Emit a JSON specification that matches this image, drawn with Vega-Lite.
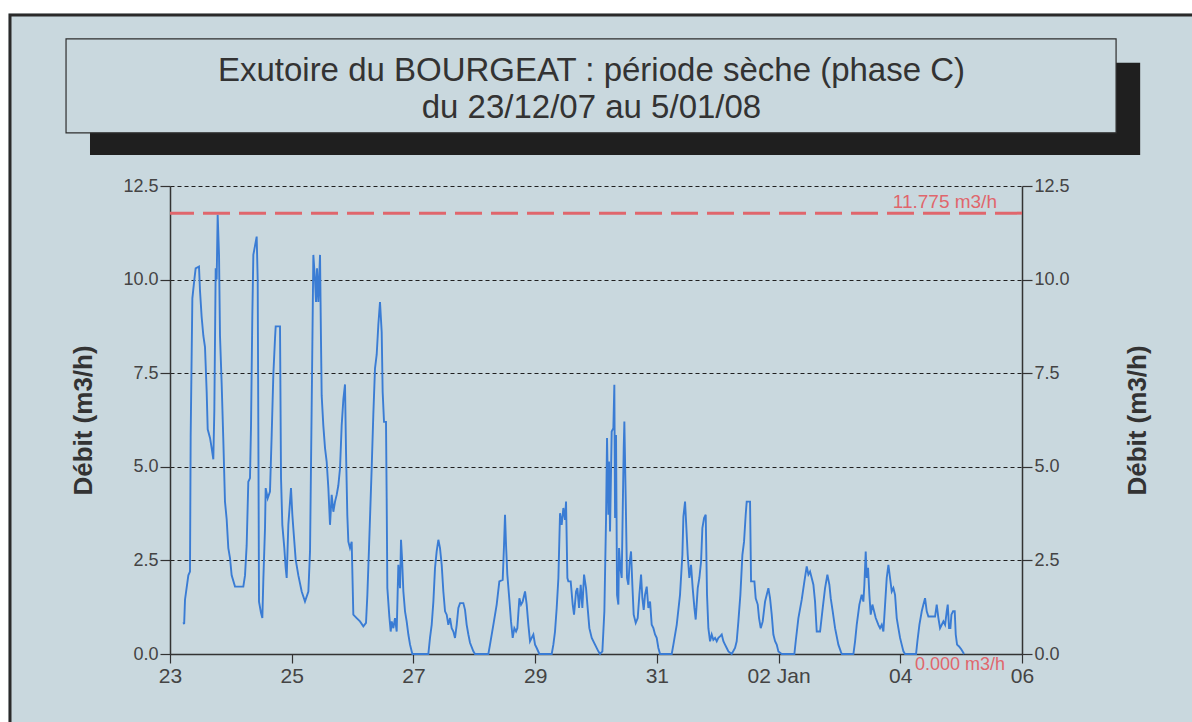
{
  "$schema": "https://vega.github.io/schema/vega-lite/v6.json",
  "width": 852,
  "height": 468,
  "autosize": {"type": "none"},
  "padding": {"left": 170, "top": 186, "right": 170, "bottom": 68},
  "background": "#c9d8de",
  "config": {"view": {"stroke": null}, "font": "Liberation Sans", "axis": {"labelFont": "Liberation Sans", "titleFont": "Liberation Sans"}},
  "resolve": {"axis": {"x": "independent", "y": "independent"}},
  "layer": [
    {
      "data": {"values": [{}]},
      "mark": {"type": "rect", "fill": "#ffffff", "stroke": null},
      "encoding": {
        "x": {"datum": {"year": 2007, "month": 12, "date": 19}, "type": "temporal", "axis": null, "scale": {"domain": [{"year": 2007, "month": 12, "date": 23}, {"year": 2008, "month": 1, "date": 6}]}},
        "x2": {"datum": {"year": 2008, "month": 1, "date": 9}},
        "y": {"datum": 18.2, "type": "quantitative", "axis": null, "scale": {"domain": [0, 12.5], "nice": false}},
        "y2": {"datum": 17.107}
      }
    },
    {
      "data": {"values": [{}]},
      "mark": {"type": "rect", "fill": "#ffffff", "stroke": null},
      "encoding": {
        "x": {"datum": {"year": 2007, "month": 12, "date": 19}, "type": "temporal", "axis": null, "scale": {"domain": [{"year": 2007, "month": 12, "date": 23}, {"year": 2008, "month": 1, "date": 6}]}},
        "x2": {"datum": {"year": 2007, "month": 12, "date": 20, "hours": 8, "minutes": 19}},
        "y": {"datum": 18.2, "type": "quantitative", "axis": null, "scale": {"domain": [0, 12.5], "nice": false}},
        "y2": {"datum": -3}
      }
    },
    {
      "data": {"values": [{}]},
      "mark": {"type": "rect", "fillOpacity": 0, "stroke": "#2a2a2a", "strokeWidth": 3},
      "encoding": {
        "x": {"datum": {"year": 2007, "month": 12, "date": 20, "hours": 8, "minutes": 54}, "type": "temporal", "axis": null, "scale": {"domain": [{"year": 2007, "month": 12, "date": 23}, {"year": 2008, "month": 1, "date": 6}]}},
        "x2": {"datum": {"year": 2008, "month": 1, "date": 8, "hours": 20, "minutes": 12}},
        "y": {"datum": 17.067, "type": "quantitative", "axis": null, "scale": {"domain": [0, 12.5], "nice": false}},
        "y2": {"datum": -2.03}
      }
    },
    {
      "data": {"values": [{}]},
      "mark": {"type": "rect", "fill": "#1f1f1f", "stroke": null},
      "encoding": {
        "x": {"datum": {"year": 2007, "month": 12, "date": 21, "hours": 16, "minutes": 27}, "type": "temporal", "axis": null, "scale": {"domain": [{"year": 2007, "month": 12, "date": 23}, {"year": 2008, "month": 1, "date": 6}]}},
        "x2": {"datum": {"year": 2008, "month": 1, "date": 7, "hours": 22, "minutes": 36}},
        "y": {"datum": 15.79, "type": "quantitative", "axis": null, "scale": {"domain": [0, 12.5], "nice": false}},
        "y2": {"datum": 13.33}
      }
    },
    {
      "data": {"values": [{}]},
      "mark": {"type": "rect", "fill": "#c9d8de", "stroke": "#2e2e2e", "strokeWidth": 1.2},
      "encoding": {
        "x": {"datum": {"year": 2007, "month": 12, "date": 21, "hours": 7, "minutes": 0}, "type": "temporal", "axis": null, "scale": {"domain": [{"year": 2007, "month": 12, "date": 23}, {"year": 2008, "month": 1, "date": 6}]}},
        "x2": {"datum": {"year": 2008, "month": 1, "date": 7, "hours": 13, "minutes": 6}},
        "y": {"datum": 16.43, "type": "quantitative", "axis": null, "scale": {"domain": [0, 12.5], "nice": false}},
        "y2": {"datum": 13.92}
      }
    },
    {
      "data": {"values": [{}]},
      "mark": {"type": "text", "text": ["Exutoire du BOURGEAT : période sèche (phase C)", "du 23/12/07 au 5/01/08"], "font": "Liberation Sans", "fontSize": 33, "color": "#333333", "align": "center", "baseline": "alphabetic", "lineHeight": 37},
      "encoding": {
        "x": {"datum": {"year": 2007, "month": 12, "date": 29, "hours": 22, "minutes": 13}, "type": "temporal", "axis": null, "scale": {"domain": [{"year": 2007, "month": 12, "date": 23}, {"year": 2008, "month": 1, "date": 6}]}},
        "y": {"datum": 15.3, "type": "quantitative", "axis": null, "scale": {"domain": [0, 12.5], "nice": false}}
      }
    },
    {
      "data": {"values": [
        {"date": "2007-12-23T05:16", "debit": 0.85},
        {"date": "2007-12-23T05:35", "debit": 0.8},
        {"date": "2007-12-23T05:55", "debit": 1.45},
        {"date": "2007-12-23T07:14", "debit": 2.1},
        {"date": "2007-12-23T07:53", "debit": 2.2},
        {"date": "2007-12-23T08:09", "debit": 5.8},
        {"date": "2007-12-23T08:49", "debit": 9.5},
        {"date": "2007-12-23T09:36", "debit": 10.0},
        {"date": "2007-12-23T10:07", "debit": 10.3},
        {"date": "2007-12-23T11:26", "debit": 10.35},
        {"date": "2007-12-23T11:50", "debit": 9.7},
        {"date": "2007-12-23T12:29", "debit": 9.0},
        {"date": "2007-12-23T13:09", "debit": 8.5},
        {"date": "2007-12-23T13:48", "debit": 8.2},
        {"date": "2007-12-23T14:28", "debit": 7.0},
        {"date": "2007-12-23T14:52", "debit": 6.0},
        {"date": "2007-12-23T15:47", "debit": 5.77},
        {"date": "2007-12-23T16:26", "debit": 5.5},
        {"date": "2007-12-23T17:05", "debit": 5.2},
        {"date": "2007-12-23T17:29", "debit": 6.5},
        {"date": "2007-12-23T18:01", "debit": 10.3},
        {"date": "2007-12-23T18:24", "debit": 10.0},
        {"date": "2007-12-23T18:48", "debit": 11.73},
        {"date": "2007-12-23T19:20", "debit": 10.66},
        {"date": "2007-12-23T19:43", "debit": 8.5},
        {"date": "2007-12-23T20:23", "debit": 7.2},
        {"date": "2007-12-23T21:02", "debit": 5.7},
        {"date": "2007-12-23T21:41", "debit": 4.07},
        {"date": "2007-12-23T22:21", "debit": 3.6},
        {"date": "2007-12-23T23:00", "debit": 2.83},
        {"date": "2007-12-23T23:40", "debit": 2.56},
        {"date": "2007-12-24T00:19", "debit": 2.1},
        {"date": "2007-12-24T01:38", "debit": 1.8},
        {"date": "2007-12-24T04:55", "debit": 1.8},
        {"date": "2007-12-24T05:35", "debit": 2.1},
        {"date": "2007-12-24T06:14", "debit": 2.9},
        {"date": "2007-12-24T06:53", "debit": 4.6},
        {"date": "2007-12-24T07:33", "debit": 4.7},
        {"date": "2007-12-24T07:57", "debit": 6.1},
        {"date": "2007-12-24T08:28", "debit": 9.05},
        {"date": "2007-12-24T08:52", "debit": 10.66},
        {"date": "2007-12-24T09:31", "debit": 10.9},
        {"date": "2007-12-24T10:11", "debit": 11.15},
        {"date": "2007-12-24T10:35", "debit": 10.0},
        {"date": "2007-12-24T10:50", "debit": 6.1},
        {"date": "2007-12-24T11:06", "debit": 1.4},
        {"date": "2007-12-24T11:53", "debit": 1.1},
        {"date": "2007-12-24T12:25", "debit": 0.96},
        {"date": "2007-12-24T12:49", "debit": 2.0},
        {"date": "2007-12-24T13:28", "debit": 3.36},
        {"date": "2007-12-24T13:44", "debit": 4.43},
        {"date": "2007-12-24T14:31", "debit": 4.16},
        {"date": "2007-12-24T15:26", "debit": 4.34},
        {"date": "2007-12-24T16:06", "debit": 5.85},
        {"date": "2007-12-24T16:45", "debit": 7.45},
        {"date": "2007-12-24T17:25", "debit": 8.43},
        {"date": "2007-12-24T17:41", "debit": 8.75},
        {"date": "2007-12-24T19:23", "debit": 8.75},
        {"date": "2007-12-24T19:47", "debit": 4.7},
        {"date": "2007-12-24T20:18", "debit": 3.45},
        {"date": "2007-12-24T21:05", "debit": 2.83},
        {"date": "2007-12-24T21:37", "debit": 2.3},
        {"date": "2007-12-24T22:01", "debit": 2.03},
        {"date": "2007-12-24T22:40", "debit": 3.45},
        {"date": "2007-12-24T23:20", "debit": 4.07},
        {"date": "2007-12-24T23:43", "debit": 4.43},
        {"date": "2007-12-25T00:15", "debit": 3.72},
        {"date": "2007-12-25T00:38", "debit": 3.36},
        {"date": "2007-12-25T01:34", "debit": 2.52},
        {"date": "2007-12-25T02:37", "debit": 2.1},
        {"date": "2007-12-25T03:56", "debit": 1.67},
        {"date": "2007-12-25T05:14", "debit": 1.4},
        {"date": "2007-12-25T06:34", "debit": 1.67},
        {"date": "2007-12-25T07:13", "debit": 2.74},
        {"date": "2007-12-25T07:52", "debit": 6.57},
        {"date": "2007-12-25T08:32", "debit": 10.66},
        {"date": "2007-12-25T09:11", "debit": 10.0},
        {"date": "2007-12-25T09:35", "debit": 9.4},
        {"date": "2007-12-25T09:59", "debit": 10.3},
        {"date": "2007-12-25T10:30", "debit": 9.4},
        {"date": "2007-12-25T11:10", "debit": 10.66},
        {"date": "2007-12-25T11:33", "debit": 8.35},
        {"date": "2007-12-25T11:49", "debit": 6.9},
        {"date": "2007-12-25T12:28", "debit": 6.1},
        {"date": "2007-12-25T13:08", "debit": 5.5},
        {"date": "2007-12-25T13:47", "debit": 5.14},
        {"date": "2007-12-25T14:27", "debit": 4.43},
        {"date": "2007-12-25T15:06", "debit": 3.45},
        {"date": "2007-12-25T15:46", "debit": 4.25},
        {"date": "2007-12-25T16:25", "debit": 3.8},
        {"date": "2007-12-25T17:05", "debit": 4.07},
        {"date": "2007-12-25T17:44", "debit": 4.25},
        {"date": "2007-12-25T18:23", "debit": 4.5},
        {"date": "2007-12-25T19:03", "debit": 4.96},
        {"date": "2007-12-25T19:42", "debit": 6.1},
        {"date": "2007-12-25T20:22", "debit": 6.8},
        {"date": "2007-12-25T21:01", "debit": 7.2},
        {"date": "2007-12-25T21:25", "debit": 5.4},
        {"date": "2007-12-25T21:56", "debit": 3.7},
        {"date": "2007-12-25T22:20", "debit": 3.0},
        {"date": "2007-12-25T22:59", "debit": 2.83},
        {"date": "2007-12-25T23:39", "debit": 3.0},
        {"date": "2007-12-26T00:18", "debit": 1.05},
        {"date": "2007-12-26T01:37", "debit": 0.96},
        {"date": "2007-12-26T02:56", "debit": 0.87},
        {"date": "2007-12-26T04:15", "debit": 0.74},
        {"date": "2007-12-26T05:18", "debit": 0.83},
        {"date": "2007-12-26T05:50", "debit": 1.58},
        {"date": "2007-12-26T06:29", "debit": 2.83},
        {"date": "2007-12-26T07:32", "debit": 4.96},
        {"date": "2007-12-26T08:11", "debit": 6.39},
        {"date": "2007-12-26T08:51", "debit": 7.63},
        {"date": "2007-12-26T09:31", "debit": 8.0},
        {"date": "2007-12-26T10:10", "debit": 8.8},
        {"date": "2007-12-26T10:49", "debit": 9.4},
        {"date": "2007-12-26T11:29", "debit": 8.6},
        {"date": "2007-12-26T11:52", "debit": 7.0},
        {"date": "2007-12-26T12:24", "debit": 6.2},
        {"date": "2007-12-26T13:11", "debit": 6.2},
        {"date": "2007-12-26T13:27", "debit": 4.16},
        {"date": "2007-12-26T13:43", "debit": 1.76},
        {"date": "2007-12-26T14:30", "debit": 1.0},
        {"date": "2007-12-26T15:02", "debit": 0.6},
        {"date": "2007-12-26T15:26", "debit": 0.87},
        {"date": "2007-12-26T16:05", "debit": 0.69},
        {"date": "2007-12-26T16:44", "debit": 0.96},
        {"date": "2007-12-26T17:24", "debit": 0.6},
        {"date": "2007-12-26T18:03", "debit": 2.38},
        {"date": "2007-12-26T18:43", "debit": 1.76},
        {"date": "2007-12-26T19:06", "debit": 3.05},
        {"date": "2007-12-26T19:30", "debit": 2.56},
        {"date": "2007-12-26T20:02", "debit": 1.67},
        {"date": "2007-12-26T20:41", "debit": 1.14},
        {"date": "2007-12-26T21:20", "debit": 0.87},
        {"date": "2007-12-26T22:00", "debit": 0.52},
        {"date": "2007-12-26T22:40", "debit": 0.25},
        {"date": "2007-12-26T23:34", "debit": 0},
        {"date": "2007-12-27T05:53", "debit": 0},
        {"date": "2007-12-27T06:32", "debit": 0.43},
        {"date": "2007-12-27T07:12", "debit": 0.78},
        {"date": "2007-12-27T07:52", "debit": 1.4},
        {"date": "2007-12-27T08:31", "debit": 2.3},
        {"date": "2007-12-27T09:10", "debit": 2.74},
        {"date": "2007-12-27T09:50", "debit": 3.05},
        {"date": "2007-12-27T10:29", "debit": 2.83},
        {"date": "2007-12-27T11:09", "debit": 2.38},
        {"date": "2007-12-27T11:48", "debit": 1.67},
        {"date": "2007-12-27T12:28", "debit": 1.14},
        {"date": "2007-12-27T13:07", "debit": 1.05},
        {"date": "2007-12-27T13:46", "debit": 0.78},
        {"date": "2007-12-27T14:26", "debit": 0.96},
        {"date": "2007-12-27T15:05", "debit": 0.69},
        {"date": "2007-12-27T15:45", "debit": 0.6},
        {"date": "2007-12-27T16:24", "debit": 0.43},
        {"date": "2007-12-27T17:04", "debit": 0.78},
        {"date": "2007-12-27T17:43", "debit": 1.23},
        {"date": "2007-12-27T18:23", "debit": 1.36},
        {"date": "2007-12-27T19:41", "debit": 1.36},
        {"date": "2007-12-27T20:21", "debit": 1.18},
        {"date": "2007-12-27T21:00", "debit": 0.78},
        {"date": "2007-12-27T21:40", "debit": 0.52},
        {"date": "2007-12-27T22:19", "debit": 0.3},
        {"date": "2007-12-27T23:38", "debit": 0.07},
        {"date": "2007-12-28T00:17", "debit": 0},
        {"date": "2007-12-28T05:33", "debit": 0},
        {"date": "2007-12-28T06:12", "debit": 0.25},
        {"date": "2007-12-28T07:31", "debit": 0.78},
        {"date": "2007-12-28T08:50", "debit": 1.32},
        {"date": "2007-12-28T09:53", "debit": 1.94},
        {"date": "2007-12-28T11:12", "debit": 1.98},
        {"date": "2007-12-28T11:44", "debit": 2.92},
        {"date": "2007-12-28T12:07", "debit": 3.72},
        {"date": "2007-12-28T12:31", "debit": 2.92},
        {"date": "2007-12-28T13:02", "debit": 2.12},
        {"date": "2007-12-28T13:50", "debit": 1.45},
        {"date": "2007-12-28T14:29", "debit": 0.87},
        {"date": "2007-12-28T15:09", "debit": 0.43},
        {"date": "2007-12-28T15:48", "debit": 0.69},
        {"date": "2007-12-28T16:28", "debit": 0.6},
        {"date": "2007-12-28T16:59", "debit": 0.69},
        {"date": "2007-12-28T17:47", "debit": 1.49},
        {"date": "2007-12-28T18:26", "debit": 1.32},
        {"date": "2007-12-28T19:05", "debit": 1.4},
        {"date": "2007-12-28T20:01", "debit": 1.67},
        {"date": "2007-12-28T20:40", "debit": 1.32},
        {"date": "2007-12-28T21:20", "debit": 0.78},
        {"date": "2007-12-28T21:59", "debit": 0.34},
        {"date": "2007-12-28T22:38", "debit": 0.43},
        {"date": "2007-12-28T23:18", "debit": 0.52},
        {"date": "2007-12-28T23:58", "debit": 0.25},
        {"date": "2007-12-29T00:37", "debit": 0.16},
        {"date": "2007-12-29T01:40", "debit": 0},
        {"date": "2007-12-29T06:32", "debit": 0},
        {"date": "2007-12-29T07:11", "debit": 0.25},
        {"date": "2007-12-29T07:50", "debit": 0.6},
        {"date": "2007-12-29T08:30", "debit": 1.23},
        {"date": "2007-12-29T09:10", "debit": 2.03},
        {"date": "2007-12-29T09:49", "debit": 3.76},
        {"date": "2007-12-29T10:28", "debit": 3.45},
        {"date": "2007-12-29T11:08", "debit": 3.9},
        {"date": "2007-12-29T11:47", "debit": 3.58},
        {"date": "2007-12-29T12:11", "debit": 4.07},
        {"date": "2007-12-29T12:43", "debit": 2.03},
        {"date": "2007-12-29T13:06", "debit": 1.94},
        {"date": "2007-12-29T14:01", "debit": 1.94},
        {"date": "2007-12-29T14:49", "debit": 1.32},
        {"date": "2007-12-29T15:20", "debit": 1.05},
        {"date": "2007-12-29T16:08", "debit": 1.67},
        {"date": "2007-12-29T16:39", "debit": 1.76},
        {"date": "2007-12-29T17:19", "debit": 1.23},
        {"date": "2007-12-29T17:58", "debit": 1.85},
        {"date": "2007-12-29T18:37", "debit": 1.23},
        {"date": "2007-12-29T19:17", "debit": 2.12},
        {"date": "2007-12-29T20:04", "debit": 1.76},
        {"date": "2007-12-29T20:36", "debit": 1.32},
        {"date": "2007-12-29T21:23", "debit": 0.69},
        {"date": "2007-12-29T22:19", "debit": 0.43},
        {"date": "2007-12-29T23:37", "debit": 0.25},
        {"date": "2007-12-30T00:56", "debit": 0.07},
        {"date": "2007-12-30T01:35", "debit": 0},
        {"date": "2007-12-30T02:31", "debit": 0.07},
        {"date": "2007-12-30T03:18", "debit": 1.14},
        {"date": "2007-12-30T03:58", "debit": 3.63},
        {"date": "2007-12-30T04:21", "debit": 5.77},
        {"date": "2007-12-30T04:53", "debit": 3.72},
        {"date": "2007-12-30T05:08", "debit": 5.14},
        {"date": "2007-12-30T05:32", "debit": 3.27},
        {"date": "2007-12-30T05:56", "debit": 4.88},
        {"date": "2007-12-30T06:11", "debit": 5.94},
        {"date": "2007-12-30T06:51", "debit": 6.03},
        {"date": "2007-12-30T07:14", "debit": 7.19},
        {"date": "2007-12-30T07:31", "debit": 3.63},
        {"date": "2007-12-30T07:54", "debit": 5.85},
        {"date": "2007-12-30T08:18", "debit": 1.58},
        {"date": "2007-12-30T08:49", "debit": 1.32},
        {"date": "2007-12-30T09:05", "debit": 2.83},
        {"date": "2007-12-30T09:37", "debit": 2.3},
        {"date": "2007-12-30T10:08", "debit": 2.03},
        {"date": "2007-12-30T10:32", "debit": 3.8},
        {"date": "2007-12-30T10:56", "debit": 5.5},
        {"date": "2007-12-30T11:11", "debit": 6.21},
        {"date": "2007-12-30T11:43", "debit": 4.16},
        {"date": "2007-12-30T12:14", "debit": 2.03},
        {"date": "2007-12-30T12:46", "debit": 1.85},
        {"date": "2007-12-30T13:17", "debit": 2.47},
        {"date": "2007-12-30T13:49", "debit": 2.74},
        {"date": "2007-12-30T14:20", "debit": 1.85},
        {"date": "2007-12-30T14:52", "debit": 1.05},
        {"date": "2007-12-30T15:40", "debit": 0.83},
        {"date": "2007-12-30T16:27", "debit": 0.96},
        {"date": "2007-12-30T17:06", "debit": 1.58},
        {"date": "2007-12-30T17:46", "debit": 2.12},
        {"date": "2007-12-30T18:17", "debit": 1.49},
        {"date": "2007-12-30T18:49", "debit": 1.18},
        {"date": "2007-12-30T19:20", "debit": 1.58},
        {"date": "2007-12-30T20:00", "debit": 1.8},
        {"date": "2007-12-30T20:39", "debit": 1.23},
        {"date": "2007-12-30T21:19", "debit": 1.4},
        {"date": "2007-12-30T21:58", "debit": 0.78},
        {"date": "2007-12-30T22:38", "debit": 0.69},
        {"date": "2007-12-30T23:17", "debit": 0.52},
        {"date": "2007-12-30T23:56", "debit": 0.43},
        {"date": "2007-12-31T00:36", "debit": 0.16},
        {"date": "2007-12-31T01:16", "debit": 0},
        {"date": "2007-12-31T05:52", "debit": 0},
        {"date": "2007-12-31T06:31", "debit": 0.25},
        {"date": "2007-12-31T07:50", "debit": 0.78},
        {"date": "2007-12-31T09:08", "debit": 1.58},
        {"date": "2007-12-31T10:04", "debit": 2.65},
        {"date": "2007-12-31T10:28", "debit": 3.67},
        {"date": "2007-12-31T11:07", "debit": 4.07},
        {"date": "2007-12-31T11:31", "debit": 3.54},
        {"date": "2007-12-31T12:10", "debit": 2.65},
        {"date": "2007-12-31T12:49", "debit": 2.03},
        {"date": "2007-12-31T13:29", "debit": 2.38},
        {"date": "2007-12-31T14:08", "debit": 1.76},
        {"date": "2007-12-31T14:48", "debit": 1.23},
        {"date": "2007-12-31T15:19", "debit": 0.92},
        {"date": "2007-12-31T16:07", "debit": 1.76},
        {"date": "2007-12-31T16:46", "debit": 2.03},
        {"date": "2007-12-31T17:26", "debit": 2.47},
        {"date": "2007-12-31T17:57", "debit": 3.36},
        {"date": "2007-12-31T18:37", "debit": 3.63},
        {"date": "2007-12-31T19:16", "debit": 3.72},
        {"date": "2007-12-31T19:47", "debit": 1.58},
        {"date": "2007-12-31T20:19", "debit": 0.69},
        {"date": "2007-12-31T20:59", "debit": 0.34},
        {"date": "2007-12-31T21:38", "debit": 0.52},
        {"date": "2007-12-31T22:17", "debit": 0.38},
        {"date": "2007-12-31T22:57", "debit": 0.43},
        {"date": "2007-12-31T23:37", "debit": 0.34},
        {"date": "2008-01-01T00:16", "debit": 0.43},
        {"date": "2008-01-01T00:55", "debit": 0.47},
        {"date": "2008-01-01T01:35", "debit": 0.52},
        {"date": "2008-01-01T02:14", "debit": 0.34},
        {"date": "2008-01-01T02:53", "debit": 0.25},
        {"date": "2008-01-01T03:33", "debit": 0.16},
        {"date": "2008-01-01T04:13", "debit": 0.07},
        {"date": "2008-01-01T05:31", "debit": 0},
        {"date": "2008-01-01T06:50", "debit": 0.16},
        {"date": "2008-01-01T07:29", "debit": 0.34},
        {"date": "2008-01-01T08:09", "debit": 0.87},
        {"date": "2008-01-01T08:56", "debit": 1.58},
        {"date": "2008-01-01T09:44", "debit": 2.65},
        {"date": "2008-01-01T10:23", "debit": 3.0},
        {"date": "2008-01-01T11:02", "debit": 3.72},
        {"date": "2008-01-01T11:26", "debit": 4.07},
        {"date": "2008-01-01T12:45", "debit": 4.07},
        {"date": "2008-01-01T13:09", "debit": 1.94},
        {"date": "2008-01-01T14:28", "debit": 1.94},
        {"date": "2008-01-01T14:59", "debit": 1.49},
        {"date": "2008-01-01T15:47", "debit": 1.32},
        {"date": "2008-01-01T16:18", "debit": 0.96},
        {"date": "2008-01-01T16:58", "debit": 0.69},
        {"date": "2008-01-01T17:45", "debit": 0.87},
        {"date": "2008-01-01T18:40", "debit": 1.4},
        {"date": "2008-01-01T19:20", "debit": 1.58},
        {"date": "2008-01-01T19:59", "debit": 1.76},
        {"date": "2008-01-01T20:38", "debit": 1.49},
        {"date": "2008-01-01T21:18", "debit": 1.05},
        {"date": "2008-01-01T21:57", "debit": 0.52},
        {"date": "2008-01-01T22:37", "debit": 0.34},
        {"date": "2008-01-01T23:16", "debit": 0.25},
        {"date": "2008-01-01T23:56", "debit": 0.07},
        {"date": "2008-01-02T01:14", "debit": 0},
        {"date": "2008-01-02T06:14", "debit": 0},
        {"date": "2008-01-02T06:46", "debit": 0.34},
        {"date": "2008-01-02T07:49", "debit": 0.96},
        {"date": "2008-01-02T09:08", "debit": 1.45},
        {"date": "2008-01-02T10:11", "debit": 1.94},
        {"date": "2008-01-02T11:06", "debit": 2.34},
        {"date": "2008-01-02T11:46", "debit": 2.12},
        {"date": "2008-01-02T12:25", "debit": 2.2},
        {"date": "2008-01-02T13:04", "debit": 2.03},
        {"date": "2008-01-02T13:44", "debit": 1.85},
        {"date": "2008-01-02T14:23", "debit": 1.4},
        {"date": "2008-01-02T15:03", "debit": 0.6},
        {"date": "2008-01-02T16:22", "debit": 0.6},
        {"date": "2008-01-02T17:25", "debit": 1.23},
        {"date": "2008-01-02T18:20", "debit": 1.76},
        {"date": "2008-01-02T19:15", "debit": 2.12},
        {"date": "2008-01-02T20:02", "debit": 1.85},
        {"date": "2008-01-02T20:34", "debit": 1.49},
        {"date": "2008-01-02T21:21", "debit": 1.14},
        {"date": "2008-01-02T22:17", "debit": 0.69},
        {"date": "2008-01-02T23:35", "debit": 0.25},
        {"date": "2008-01-03T00:31", "debit": 0.07},
        {"date": "2008-01-03T00:55", "debit": 0},
        {"date": "2008-01-03T05:31", "debit": 0},
        {"date": "2008-01-03T06:10", "debit": 0.34},
        {"date": "2008-01-03T06:49", "debit": 0.78},
        {"date": "2008-01-03T07:52", "debit": 1.32},
        {"date": "2008-01-03T08:47", "debit": 1.58},
        {"date": "2008-01-03T09:27", "debit": 1.4},
        {"date": "2008-01-03T09:50", "debit": 1.85},
        {"date": "2008-01-03T10:22", "debit": 2.74},
        {"date": "2008-01-03T10:46", "debit": 2.03},
        {"date": "2008-01-03T11:17", "debit": 2.3},
        {"date": "2008-01-03T11:49", "debit": 1.58},
        {"date": "2008-01-03T12:20", "debit": 1.05},
        {"date": "2008-01-03T13:00", "debit": 1.32},
        {"date": "2008-01-03T13:40", "debit": 1.14},
        {"date": "2008-01-03T14:19", "debit": 0.96},
        {"date": "2008-01-03T15:22", "debit": 0.78},
        {"date": "2008-01-03T16:01", "debit": 0.69},
        {"date": "2008-01-03T16:41", "debit": 0.78},
        {"date": "2008-01-03T17:20", "debit": 0.6},
        {"date": "2008-01-03T18:00", "debit": 1.32},
        {"date": "2008-01-03T18:39", "debit": 2.03},
        {"date": "2008-01-03T19:19", "debit": 2.38},
        {"date": "2008-01-03T19:58", "debit": 2.03},
        {"date": "2008-01-03T20:38", "debit": 1.67},
        {"date": "2008-01-03T21:17", "debit": 1.76},
        {"date": "2008-01-03T21:56", "debit": 1.58},
        {"date": "2008-01-03T22:36", "debit": 0.96},
        {"date": "2008-01-03T23:15", "debit": 0.69},
        {"date": "2008-01-03T23:55", "debit": 0.43},
        {"date": "2008-01-04T00:34", "debit": 0.25},
        {"date": "2008-01-04T01:14", "debit": 0.07},
        {"date": "2008-01-04T01:53", "debit": 0},
        {"date": "2008-01-04T06:13", "debit": 0},
        {"date": "2008-01-04T06:45", "debit": 0.34},
        {"date": "2008-01-04T07:32", "debit": 0.78},
        {"date": "2008-01-04T08:28", "debit": 1.14},
        {"date": "2008-01-04T09:07", "debit": 1.32},
        {"date": "2008-01-04T09:46", "debit": 1.49},
        {"date": "2008-01-04T10:26", "debit": 1.14},
        {"date": "2008-01-04T11:05", "debit": 1.0},
        {"date": "2008-01-04T13:43", "debit": 1.0},
        {"date": "2008-01-04T14:22", "debit": 1.32},
        {"date": "2008-01-04T15:02", "debit": 0.96},
        {"date": "2008-01-04T15:41", "debit": 0.69},
        {"date": "2008-01-04T16:21", "debit": 0.78},
        {"date": "2008-01-04T17:00", "debit": 0.87},
        {"date": "2008-01-04T17:40", "debit": 0.78},
        {"date": "2008-01-04T18:19", "debit": 1.14},
        {"date": "2008-01-04T18:43", "debit": 1.32},
        {"date": "2008-01-04T19:14", "debit": 0.69},
        {"date": "2008-01-04T19:46", "debit": 0.69},
        {"date": "2008-01-04T20:10", "debit": 1.05},
        {"date": "2008-01-04T20:49", "debit": 1.14},
        {"date": "2008-01-04T21:28", "debit": 1.14},
        {"date": "2008-01-04T21:52", "debit": 0.52},
        {"date": "2008-01-04T22:23", "debit": 0.25},
        {"date": "2008-01-04T23:11", "debit": 0.2},
        {"date": "2008-01-05T00:06", "debit": 0.12},
        {"date": "2008-01-05T01:09", "debit": 0}
      ]},
      "mark": {"type": "line", "stroke": "#3a7cd4", "strokeWidth": 1.9, "interpolate": "linear"},
      "encoding": {
        "x": {
          "field": "date", "type": "temporal", "title": null,
          "scale": {"domain": [{"year": 2007, "month": 12, "date": 23}, {"year": 2008, "month": 1, "date": 6}]},
          "axis": {
            "orient": "bottom",
            "values": [{"year": 2007, "month": 12, "date": 23}, {"year": 2007, "month": 12, "date": 25}, {"year": 2007, "month": 12, "date": 27}, {"year": 2007, "month": 12, "date": 29}, {"year": 2007, "month": 12, "date": 31}, {"year": 2008, "month": 1, "date": 2}, {"year": 2008, "month": 1, "date": 4}, {"year": 2008, "month": 1, "date": 6}],
            "labelExpr": "(month(datum.value) == 0 && date(datum.value) == 2) ? '02 Jan' : timeFormat(datum.value, '%d')",
            "grid": false, "domainColor": "#333333", "domainWidth": 1.5,
            "tickSize": 9, "tickColor": "#333333", "tickWidth": 1.2,
            "labelFontSize": 21, "labelColor": "#444444", "labelPadding": 2,
            "labelFlush": false, "labelOverlap": false, "title": null
          }
        },
        "y": {
          "field": "debit", "type": "quantitative",
          "scale": {"domain": [0, 12.5], "nice": false},
          "axis": {
            "orient": "left", "values": [0, 2.5, 5, 7.5, 10, 12.5], "format": ".1f",
            "grid": true, "gridDash": [4, 3], "gridColor": "#1f1f1f", "gridOpacity": 1, "gridWidth": 1,
            "domainColor": "#333333", "domainWidth": 1.5,
            "tickSize": 10, "tickColor": "#333333", "tickWidth": 1.2,
            "labelFontSize": 18, "labelColor": "#444444", "labelPadding": 2,
            "title": "Débit  (m3/h)", "titleFontSize": 26, "titleFontWeight": "bold", "titleColor": "#333333", "titlePadding": 26
          }
        }
      }
    },
    {
      "data": {"values": [{}]},
      "mark": {"type": "rule", "stroke": "#e0666c", "strokeWidth": 3, "strokeDash": [27, 9]},
      "encoding": {
        "y": {
          "datum": 11.775, "type": "quantitative",
          "scale": {"domain": [0, 12.5], "nice": false},
          "axis": {
            "orient": "right", "values": [0, 2.5, 5, 7.5, 10, 12.5], "format": ".1f",
            "grid": false, "domainColor": "#333333", "domainWidth": 1.5,
            "tickSize": 10, "tickColor": "#333333", "tickWidth": 1.2,
            "labelFontSize": 18, "labelColor": "#444444", "labelPadding": 2,
            "title": "Débit  (m3/h)", "titleFontSize": 26, "titleFontWeight": "bold", "titleColor": "#333333",
            "titleAngle": 270, "titleBaseline": "top", "titlePadding": 55
          }
        }
      }
    },
    {
      "data": {"values": [{}]},
      "mark": {"type": "text", "text": "11.775 m3/h", "fontSize": 19, "color": "#e0666c", "align": "right", "baseline": "alphabetic", "dy": -5},
      "encoding": {
        "x": {"datum": {"year": 2008, "month": 1, "date": 5, "hours": 14, "minutes": 8}, "type": "temporal", "axis": null, "scale": {"domain": [{"year": 2007, "month": 12, "date": 23}, {"year": 2008, "month": 1, "date": 6}]}},
        "y": {"datum": 11.775, "type": "quantitative", "axis": null, "scale": {"domain": [0, 12.5], "nice": false}}
      }
    },
    {
      "data": {"values": [{}]},
      "mark": {"type": "text", "text": "0.000 m3/h", "fontSize": 18, "color": "#e0666c", "align": "left", "baseline": "middle", "dy": 11},
      "encoding": {
        "x": {"datum": {"year": 2008, "month": 1, "date": 4, "hours": 5, "minutes": 48}, "type": "temporal", "axis": null, "scale": {"domain": [{"year": 2007, "month": 12, "date": 23}, {"year": 2008, "month": 1, "date": 6}]}},
        "y": {"datum": 0, "type": "quantitative", "axis": null, "scale": {"domain": [0, 12.5], "nice": false}}
      }
    }
  ]
}
